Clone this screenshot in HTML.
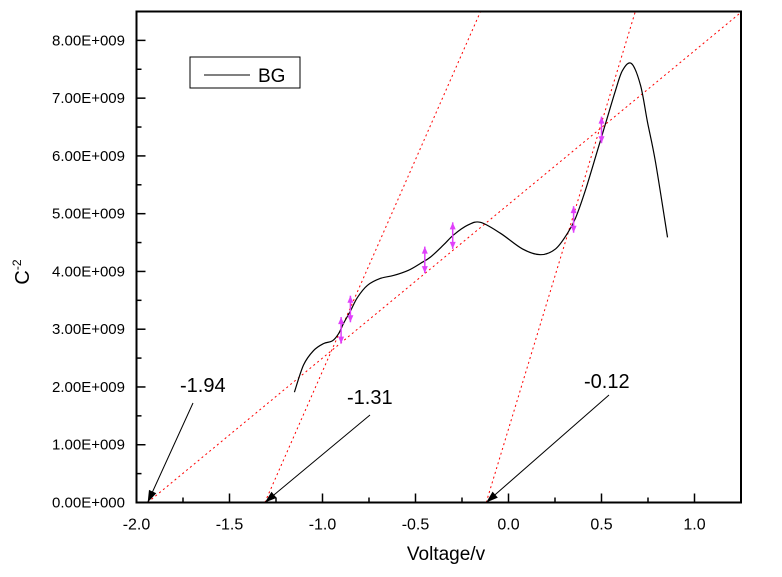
<!DOCTYPE html>
<html><head><meta charset="utf-8"><style>
body{margin:0;background:#fff}
svg{display:block;font-family:"Liberation Sans",Arial,sans-serif}
</style></head><body>
<svg id="chart" width="782" height="577" viewBox="0 0 782 577" xmlns="http://www.w3.org/2000/svg">
<g id="grid"></g>
<g id="fits"></g>
<g id="series"></g>
<g id="errs"></g>
<g id="annots"></g>
<g id="axes"></g>
<g>
<rect x="190" y="57" width="110" height="31" fill="#fff" stroke="#000" stroke-width="1"/>
<line x1="204" y1="75" x2="250" y2="75" stroke="#000" stroke-width="1"/>
<text x="258" y="82" font-size="19">BG</text>
</g>
<text x="446" y="560" font-size="19" text-anchor="middle">Voltage/v</text>
<text transform="translate(29,272) rotate(-90)" font-size="20" text-anchor="middle">C<tspan font-size="12" dy="-8">-2</tspan></text>
</svg>
<script>
const xData=[-1.151,-1.102,-1.048,-0.995,-0.946,-0.914,-0.887,-0.849,-0.812,-0.758,-0.688,-0.618,-0.538,-0.473,-0.419,-0.349,-0.296,-0.220,-0.151,-0.043,0.075,0.172,0.253,0.317,0.360,0.414,0.478,0.532,0.575,0.613,0.661,0.710,0.747,0.790,0.855];
const yData=[1.91,2.38,2.63,2.75,2.80,2.92,3.10,3.32,3.55,3.76,3.88,3.93,4.02,4.14,4.25,4.46,4.63,4.80,4.85,4.66,4.39,4.29,4.39,4.66,4.92,5.41,6.09,6.67,7.13,7.48,7.60,7.22,6.59,5.90,4.59];
const errX=[-0.9,-0.85,-0.45,-0.3,0.35,0.5];
const errY=[2.98,3.35,4.2,4.62,4.9,6.45];
const errSize=[0.23,0.23,0.23,0.23,0.23,0.23];
const fitIntercepts=[-1.94,-1.31,-0.12];
const fitSlopes=[2.66,7.33,10.6];
const annotLabels=["-1.94","-1.31","-0.12"];
const xTicks=[-2.0,-1.5,-1.0,-0.5,0.0,0.5,1.0];
const xTickLabels=["-2.0","-1.5","-1.0","-0.5","0.0","0.5","1.0"];
const yTicks=[0,1,2,3,4,5,6,7,8];
const yTickLabels=["0.00E+000","1.00E+009","2.00E+009","3.00E+009","4.00E+009","5.00E+009","6.00E+009","7.00E+009","8.00E+009"];

const L=136.5,R=741,T=11.5,B=502.5,XMIN=-2,XMAX=1.25,YMIN=0,YMAX=8.5;
const sx=v=>L+(v-XMIN)/(XMAX-XMIN)*(R-L);
const sy=v=>B-(v-YMIN)/(YMAX-YMIN)*(B-T);
const NS="http://www.w3.org/2000/svg";
function mk(tag,parent,attrs){const e=document.createElementNS(NS,tag);for(const k in attrs)e.setAttribute(k,attrs[k]);document.getElementById(parent).appendChild(e);return e;}

// fit lines
fitIntercepts.forEach((x0,i)=>{
  const m=fitSlopes[i];
  let x1=x0+YMAX/m; let y1=YMAX;
  if(x1>XMAX){x1=XMAX;y1=m*(XMAX-x0);}
  const l=mk('line','fits',{x1:sx(x0),y1:sy(0),x2:sx(x1),y2:sy(y1),stroke:'#ff0000','stroke-width':1,'stroke-dasharray':'2,3'});
  
  
});
// series (smooth catmull-rom)
const pts=xData.map((x,i)=>[sx(x),sy(yData[i])]);
let d='M'+pts[0][0]+','+pts[0][1];
for(let i=0;i<pts.length-1;i++){
  const p0=pts[Math.max(0,i-1)],p1=pts[i],p2=pts[i+1],p3=pts[Math.min(pts.length-1,i+2)];
  const c1x=p1[0]+(p2[0]-p0[0])/6,c1y=p1[1]+(p2[1]-p0[1])/6;
  const c2x=p2[0]-(p3[0]-p1[0])/6,c2y=p2[1]-(p3[1]-p1[1])/6;
  d+=` C${c1x},${c1y} ${c2x},${c2y} ${p2[0]},${p2[1]}`;
}
const pth=mk('path','series',{d:d,fill:'none',stroke:'#000','stroke-width':1.2});


// error bars
errX.forEach((x,i)=>{
  const px=sx(x),yt=sy(errY[i]+errSize[i]),yb=sy(errY[i]-errSize[i]);
  const g=mk('g','errs',{stroke:'#e040fb',fill:'#e040fb'});
  
  
  const a=document.createElementNS(NS,'line');a.setAttribute('x1',px);a.setAttribute('x2',px);a.setAttribute('y1',yt);a.setAttribute('y2',yb);a.setAttribute('stroke-width','1.5');g.appendChild(a);
  [[yt,1],[yb,-1]].forEach(([y,dd])=>{const p=document.createElementNS(NS,'polygon');p.setAttribute('points',`${px},${y} ${px-3},${y+dd*7} ${px+3},${y+dd*7}`);p.setAttribute('stroke','none');g.appendChild(p);});
});
// annotations
const annotText=[[180,392],[347,404],[584,388]];
const annotFrom=[[193,403],[370,415],[609,395]];
fitIntercepts.forEach((x0,i)=>{
  const tx=sx(x0),ty=sy(0);
  const [fx,fy]=annotFrom[i];
  const ang=Math.atan2(ty-fy,tx-fx),hl=12,hw=4;
  const l=mk('line','annots',{x1:fx,y1:fy,x2:tx,y2:ty,stroke:'#000','stroke-width':1});
  
  
  const bx=tx-hl*Math.cos(ang),by=ty-hl*Math.sin(ang);
  const p=mk('polygon','annots',{points:`${tx},${ty} ${bx+hw*Math.sin(ang)},${by-hw*Math.cos(ang)} ${bx-hw*Math.sin(ang)},${by+hw*Math.cos(ang)}`,fill:'#000'});
  
  
  const t=mk('text','annots',{x:annotText[i][0],y:annotText[i][1],'font-size':20});
  t.textContent=annotLabels[i];
  
  
});
// axes
const fr=mk('rect','axes',{x:L,y:T,width:R-L,height:B-T,fill:'none',stroke:'#000','stroke-width':2});


xTicks.forEach((v,i)=>{
  const x=sx(v);
  const t=mk('line','axes',{x1:x,y1:B,x2:x,y2:B-9,stroke:'#000','stroke-width':1.5});
  
  
  const m=sx(v+0.25);
  if(m<R-2){const mm=mk('line','axes',{x1:m,y1:B,x2:m,y2:B-5,stroke:'#000','stroke-width':1.5});}
  const lb=mk('text','axes',{x:x,y:B+27,'font-size':16,'text-anchor':'middle'});
  lb.textContent=xTickLabels[i];
  
  
});
yTicks.forEach((v,i)=>{
  const y=sy(v);
  const t=mk('line','axes',{x1:L,y1:y,x2:L+9,y2:y,stroke:'#000','stroke-width':1.5});
  
  
  const m=sy(v+0.5);
  if(m>T+2){const mm=mk('line','axes',{x1:L,y1:m,x2:L+5,y2:m,stroke:'#000','stroke-width':1.5});}
  const lb=mk('text','axes',{x:125,y:y+5,'font-size':15,'text-anchor':'end'});
  lb.textContent=yTickLabels[i];
  
  
});
</script>
</body></html>
